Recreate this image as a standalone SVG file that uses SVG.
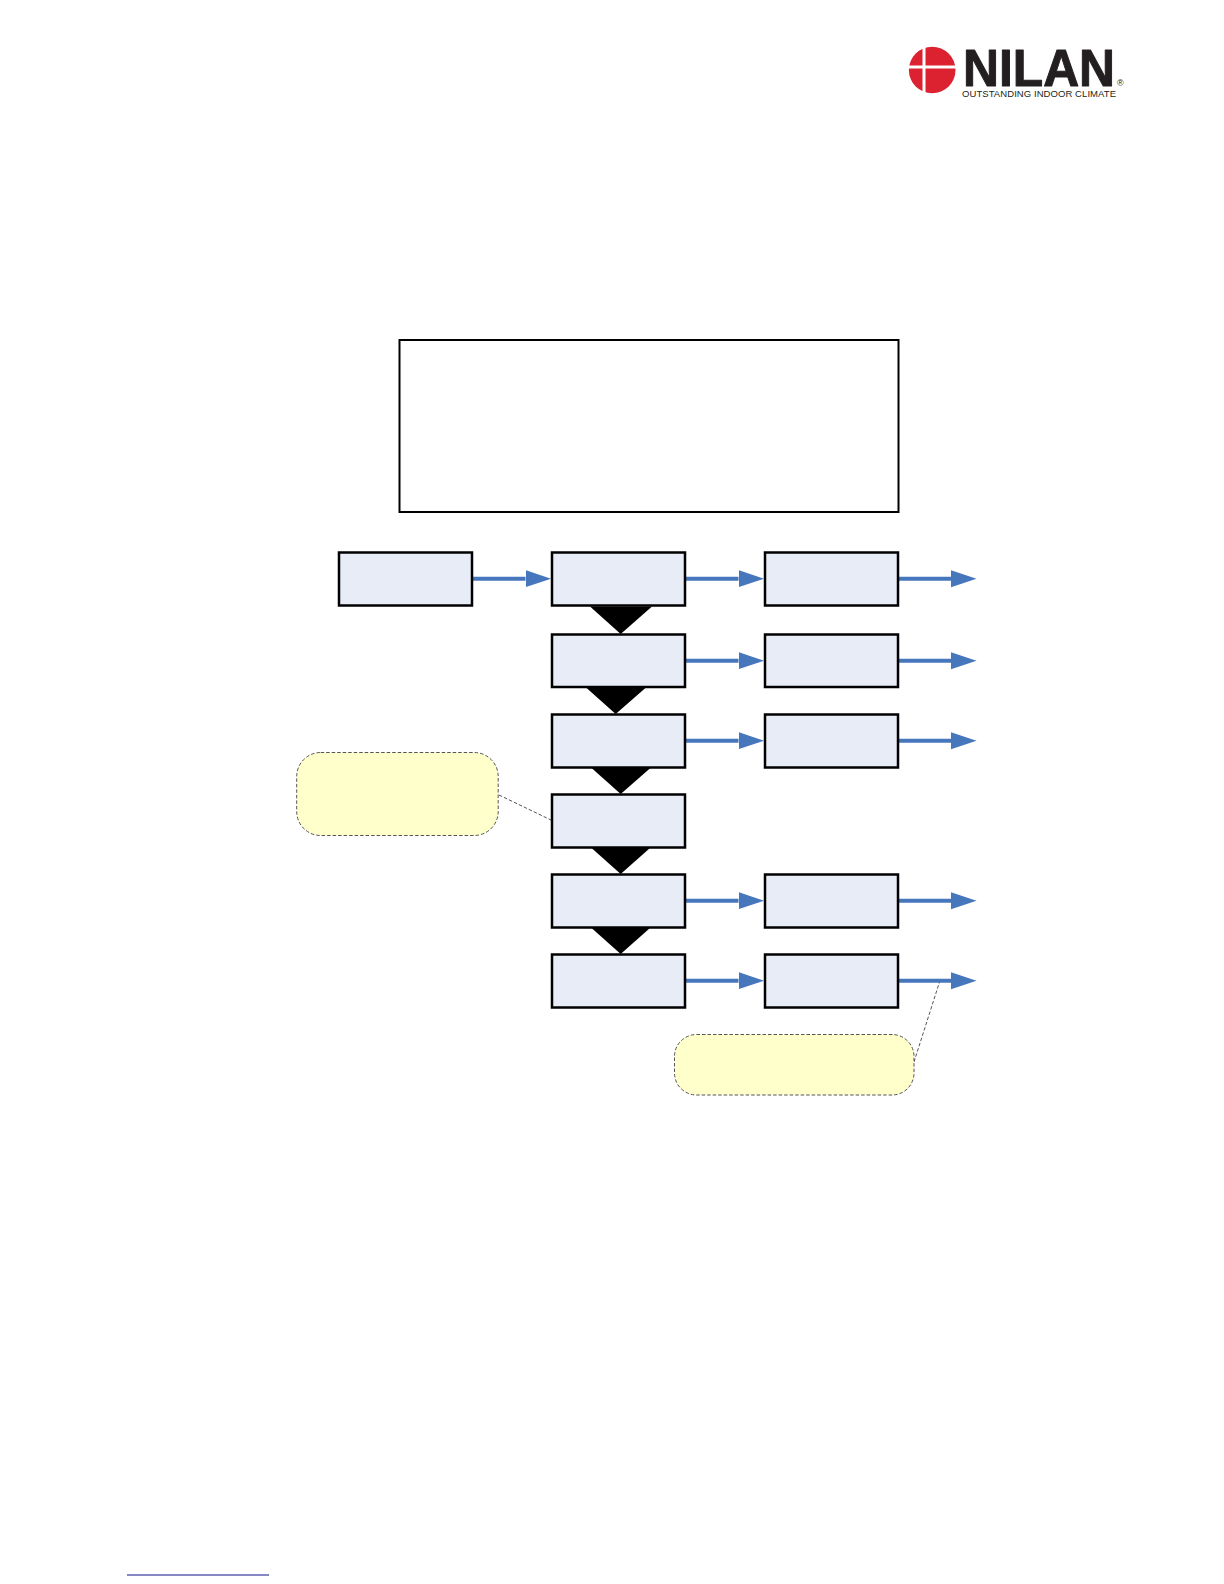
<svg xmlns="http://www.w3.org/2000/svg" width="1224" height="1584" viewBox="0 0 1224 1584">
<style>
.box{fill:#e7ecf6;stroke:#000;stroke-width:2.5}
.note{fill:#ffffcc;stroke:#555;stroke-width:1;stroke-dasharray:3.5 2}
.lead{fill:none;stroke:#555;stroke-width:1;stroke-dasharray:3.5 2}
.flow{stroke:#4677bd;stroke-width:4;fill:none;marker-end:url(#ah)}
.down{fill:#000}
.logo{font-family:"Liberation Sans",Arial,sans-serif;fill:#231f20}
</style>
<defs>
<marker id="ah" markerUnits="userSpaceOnUse" markerWidth="26" markerHeight="18" refX="0" refY="9" orient="auto" viewBox="0 0 26 18"><path d="M0 0.5L25.5 9L0 17.5Z" fill="#4677bd"/></marker>
</defs>
<rect width="1224" height="1584" fill="#fff"/>
<g id="logo">
<circle cx="932.2" cy="70" r="23.3" fill="#dc2230"/>
<rect x="922.5" y="46" width="3" height="48" fill="#fff"/>
<rect x="908" y="65.5" width="48" height="3" fill="#fff"/>
<text class="logo" x="963" y="85.5" font-size="52" font-weight="700" textLength="152" lengthAdjust="spacingAndGlyphs" stroke="#231f20" stroke-width="1" stroke-linejoin="round">NILAN</text>
<text class="logo" x="962" y="96.5" font-size="9.5" textLength="154" lengthAdjust="spacing" fill="#444">OUTSTANDING INDOOR CLIMATE</text>
<text class="logo" x="1117" y="86" font-size="9" fill="#555">®</text>
</g>
<g id="header"><rect x="399.5" y="340" width="499" height="172" fill="#fff" stroke="#000" stroke-width="2"/></g>
<g id="connectors">
<path class="flow" d="M470 578.7H525.5"/>
<path class="flow" d="M683 578.7H738.5"/>
<path class="flow" d="M897 578.7H951"/>
<path class="flow" d="M686 660.7H738.5"/>
<path class="flow" d="M897 660.7H951"/>
<path class="flow" d="M686 740.7H738.5"/>
<path class="flow" d="M898 740.7H951"/>
<path class="flow" d="M686 900.7H738.5"/>
<path class="flow" d="M898 900.7H951"/>
<path class="flow" d="M686 980.7H738.5"/>
<path class="flow" d="M898 980.7H951"/>
<path class="down" d="M590 606.5H652L620.7 634Z"/>
<path class="down" d="M586 687.5H646L615.7 714Z"/>
<path class="down" d="M591 767.5H651L620.7 794Z"/>
<path class="down" d="M591.5 848H650L620.7 874Z"/>
<path class="down" d="M591.5 928H650L620.7 954Z"/>
<path class="lead" d="M499 795L551 820"/>
<path class="lead" d="M914 1062L939.5 982"/>
</g>
<g id="n1"><rect class="box" x="339" y="552.5" width="133" height="53"/></g>
<g id="n2"><rect class="box" x="552" y="552.5" width="133" height="53"/></g>
<g id="n3"><rect class="box" x="765" y="552.5" width="133" height="53"/></g>
<g id="n4"><rect class="box" x="552" y="634.5" width="133" height="52.5"/></g>
<g id="n5"><rect class="box" x="765" y="634.5" width="133" height="52.5"/></g>
<g id="n6"><rect class="box" x="552" y="714.5" width="133" height="53"/></g>
<g id="n7"><rect class="box" x="765" y="714.5" width="133" height="53"/></g>
<g id="n8"><rect class="box" x="552" y="794.5" width="133" height="53"/></g>
<g id="n9"><rect class="box" x="552" y="874.5" width="133" height="53"/></g>
<g id="n10"><rect class="box" x="765" y="874.5" width="133" height="53"/></g>
<g id="n11"><rect class="box" x="552" y="954.5" width="133" height="53"/></g>
<g id="n12"><rect class="box" x="765" y="954.5" width="133" height="53"/></g>
<g id="note1"><rect class="note" x="296.7" y="752.5" width="201.5" height="83" rx="24"/></g>
<g id="note2"><rect class="note" x="674.5" y="1034.5" width="239.5" height="60.5" rx="22"/></g>
<g id="footer"><path d="M127 1575H269" stroke="#10108c" stroke-width="1.2"/></g>
</svg>
